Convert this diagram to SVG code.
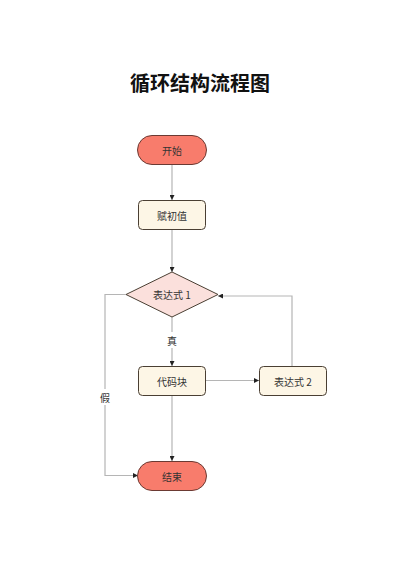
<svg xmlns="http://www.w3.org/2000/svg" width="400" height="566" viewBox="0 0 400 566">
<style>
.t{font-family:"Noto Sans CJK SC","Liberation Sans",sans-serif;font-size:10px;fill:#333;text-anchor:middle;dominant-baseline:central}
.title{font-family:"Noto Sans CJK SC","Liberation Sans",sans-serif;font-size:20px;font-weight:bold;fill:#111;text-anchor:middle}
.term{fill:#F87C6C;stroke:#6b3a33;stroke-width:1}
.proc{fill:#FDF6E6;stroke:#4a3f33;stroke-width:1}
.dec{fill:#FBE0DC;stroke:#4a3f33;stroke-width:1}
.c{fill:none;stroke:#b5b5b5;stroke-width:1.2}
</style>
<defs>
<marker id="a" viewBox="0 0 6 6" refX="6" refY="3" markerWidth="5" markerHeight="5" orient="auto" markerUnits="userSpaceOnUse">
<path d="M0,0 L6,3 L0,6 Z" fill="#222"/>
</marker>
</defs>
<rect width="400" height="566" fill="#fff"/>
<text class="title" x="200" y="91">循环结构流程图</text>
<g id="connectors">
<path class="c" d="M172,165 V200" marker-end="url(#a)"/>
<path class="c" d="M172,230 V272" marker-end="url(#a)"/>
<path class="c" d="M172,317 V366" marker-end="url(#a)"/>
<path class="c" d="M205,380.5 H259" marker-end="url(#a)"/>
<path class="c" d="M292,366 V296 H218" marker-end="url(#a)"/>
<path class="c" d="M126,294.5 H105 V475.5 H138" marker-end="url(#a)"/>
<path class="c" d="M172,395 V461" marker-end="url(#a)"/>
<rect x="164" y="332" width="16" height="16" fill="#fff"/>
<text class="t" x="172" y="340">真</text>
<rect x="97" y="389" width="16" height="16" fill="#fff"/>
<text class="t" x="105" y="397">假</text>
</g>
<g id="start">
<rect class="term" x="137.5" y="135.5" width="69" height="29" rx="14.5"/>
<text class="t" x="172" y="150">开始</text>
</g>
<g id="assign">
<rect class="proc" x="138.5" y="200.5" width="67" height="29" rx="4"/>
<text class="t" x="172" y="215">赋初值</text>
</g>
<g id="cond">
<polygon class="dec" points="172,272 218,294.5 172,317 126,294.5"/>
<text class="t" x="172" y="294.5">表达式 1</text>
</g>
<g id="body">
<rect class="proc" x="138.5" y="366.5" width="67" height="29" rx="4"/>
<text class="t" x="172" y="381">代码块</text>
</g>
<g id="expr2">
<rect class="proc" x="259.5" y="366.5" width="67" height="29" rx="4"/>
<text class="t" x="293" y="381">表达式 2</text>
</g>
<g id="end">
<rect class="term" x="137.5" y="461.5" width="69" height="29" rx="14.5"/>
<text class="t" x="172" y="476">结束</text>
</g>
</svg>
